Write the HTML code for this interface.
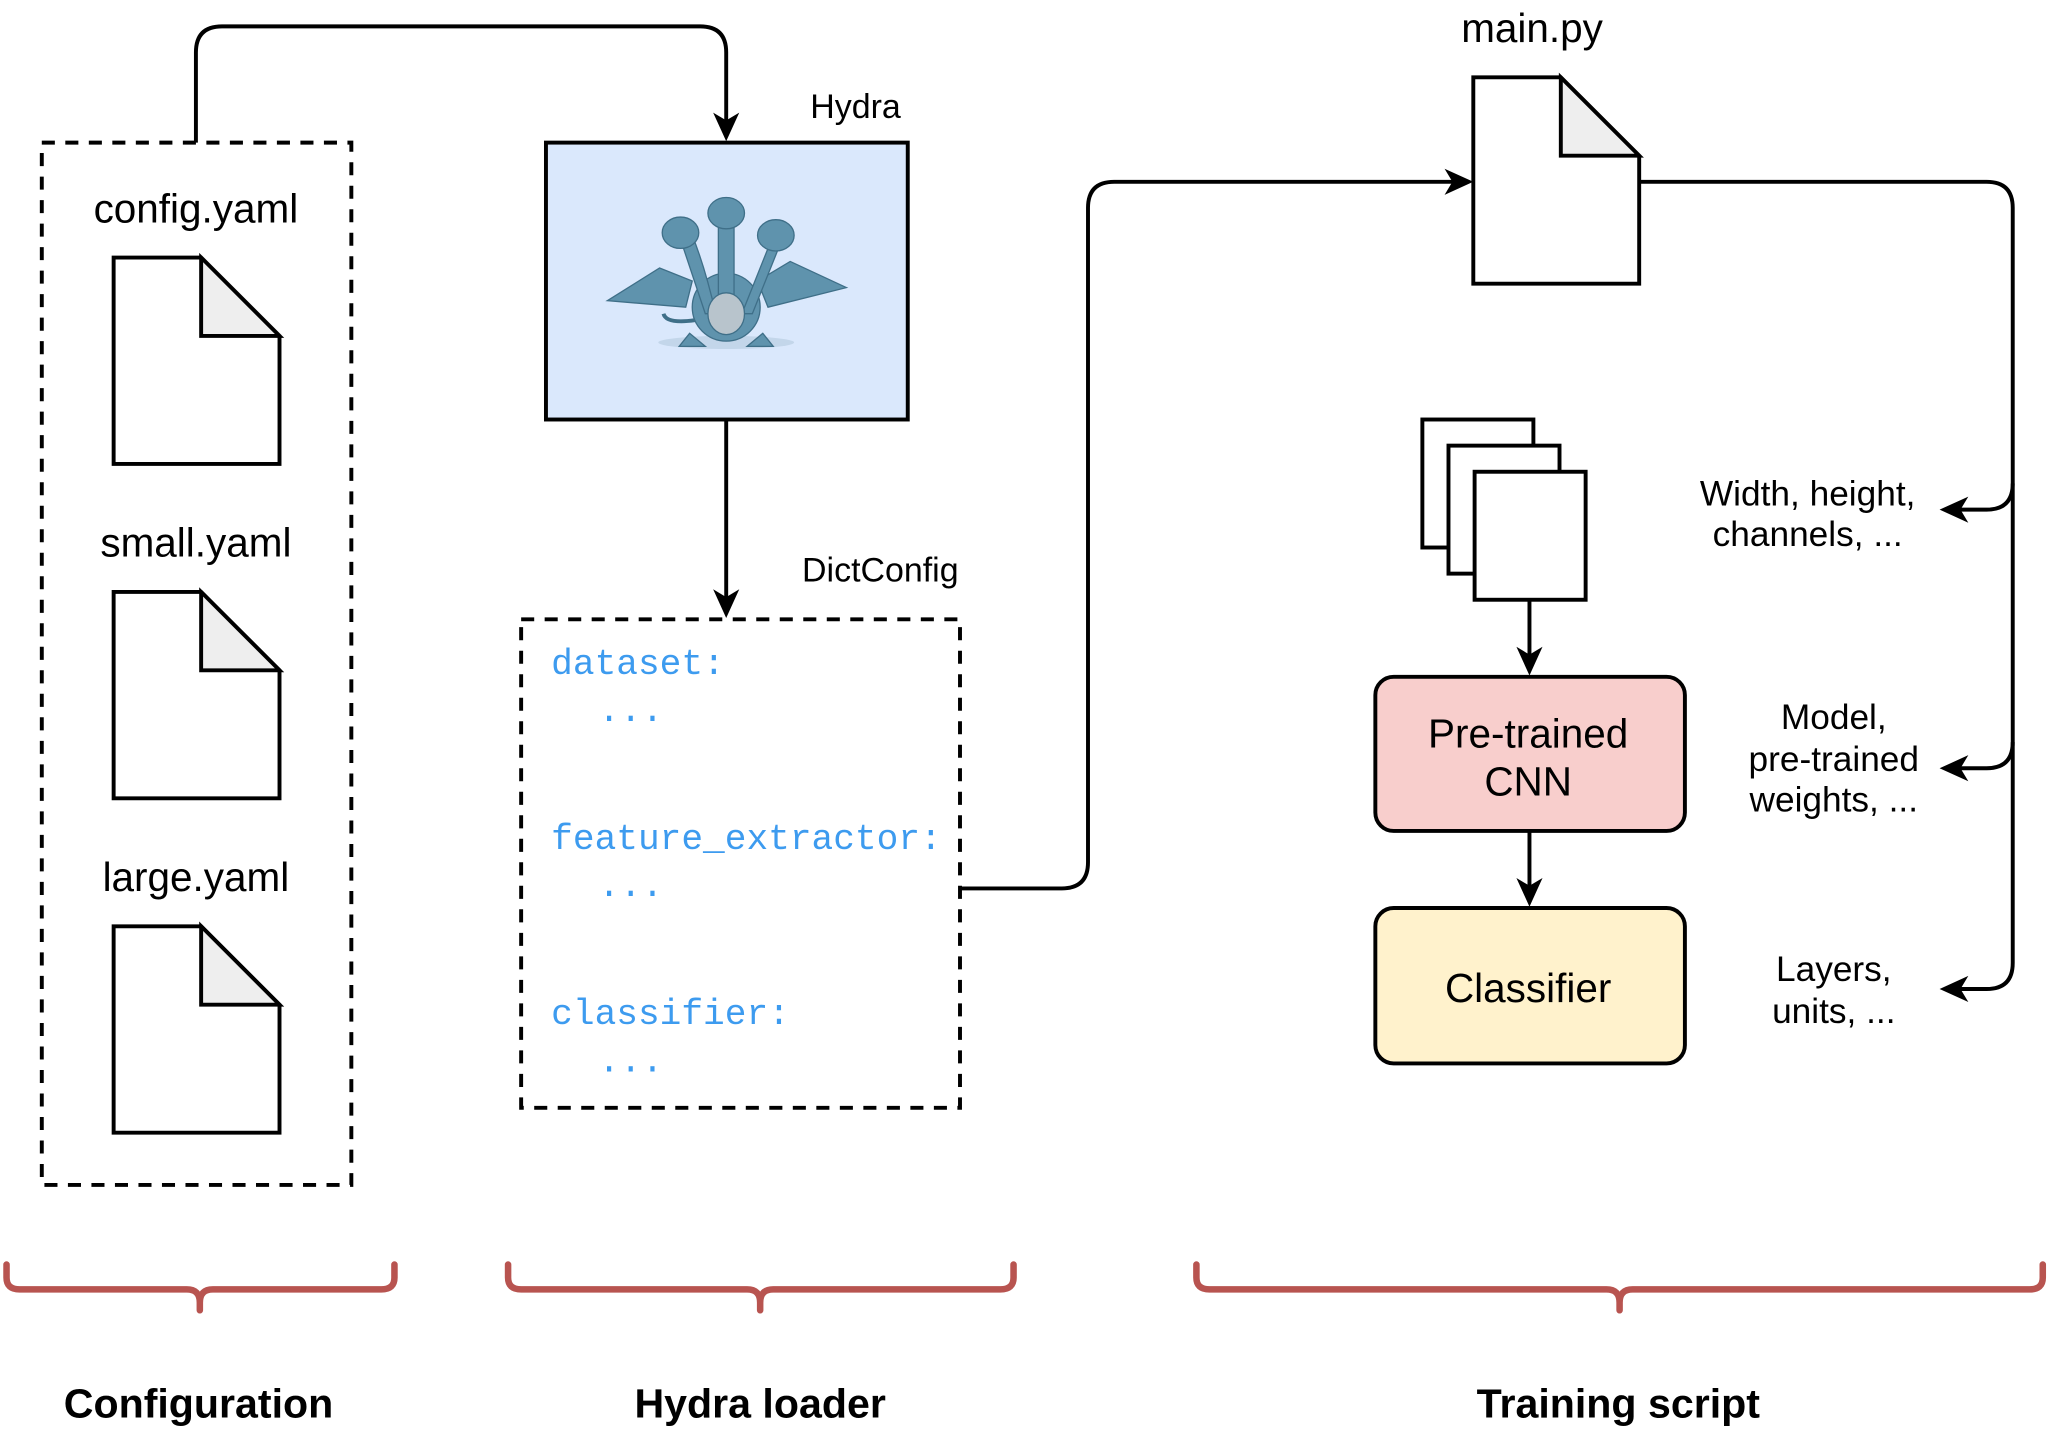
<!DOCTYPE html>
<html><head><meta charset="utf-8"><style>
html,body{margin:0;padding:0;background:#fff;}
svg{display:block;}
text{font-family:"Liberation Sans",sans-serif;fill:#000;}
.code{font-family:"Liberation Mono",monospace;fill:#3d9bef;font-size:27.7px;}
</style></head><body>
<svg width="2048" height="1432" viewBox="0 0 1568 1096" xmlns="http://www.w3.org/2000/svg">
<g fill="none" stroke="#000" stroke-width="3">
<rect x="32" y="109" width="237" height="798" stroke-dasharray="10,8"/>
<path d="M87 197 H154 L214 257 V355 H87 Z" fill="#fff"/>
<path d="M154 197 V257 H214 Z" fill="#eee"/>
<path d="M87 453 H154 L214 513 V611 H87 Z" fill="#fff"/>
<path d="M154 453 V513 H214 Z" fill="#eee"/>
<path d="M87 709 H154 L214 769 V867 H87 Z" fill="#fff"/>
<path d="M154 709 V769 H214 Z" fill="#eee"/>
<path d="M150 109 V40 Q150 20 170 20 H536 Q556 20 556 40 V96"/>
<rect x="418" y="109" width="277" height="212" fill="#dae8fc"/>
<path d="M556 321 V460"/>
<rect x="399" y="474" width="336" height="374" stroke-dasharray="10,8"/>
<path d="M735 680 H813 Q833 680 833 660 V159 Q833 139 853 139 H1115"/>
<path d="M1128 59 H1195 L1255 119 V217 H1128 Z" fill="#fff"/>
<path d="M1195 59 V119 H1255 Z" fill="#eee"/>
<path d="M1255 139 H1521 Q1541 139 1541 159 V737 Q1541 757 1521 757 H1495"/>
<path d="M1541 370 Q1541 390 1521 390 H1495"/>
<path d="M1541 568 Q1541 588 1521 588 H1495"/>
<rect x="1089" y="321" width="85" height="98" fill="#fff"/>
<rect x="1109" y="341" width="85" height="98" fill="#fff"/>
<rect x="1129" y="361" width="85" height="98" fill="#fff"/>
<path d="M1171 459 V505"/>
<rect x="1053" y="518" width="237" height="118" rx="14" fill="#f8cecc"/>
<path d="M1171 636 V683"/>
<rect x="1053" y="695" width="237" height="119" rx="14" fill="#fff2cc"/>
</g>
<g fill="#000">
<path d="M556 108 L546 86 L556 92 L566 86 Z"/>
<path d="M556 473 L546 451 L556 457 L566 451 Z"/>
<path d="M1128 139 L1106 129 L1112 139 L1106 149 Z"/>
<path d="M1485 390 L1507 380 L1501 390 L1507 400 Z"/>
<path d="M1485 588 L1507 578 L1501 588 L1507 598 Z"/>
<path d="M1485 757 L1507 747 L1501 757 L1507 767 Z"/>
<path d="M1171 517 L1161 495 L1171 501 L1181 495 Z"/>
<path d="M1171 694 L1161 672 L1171 678 L1181 672 Z"/>
</g>
<g fill="#5f93ad" stroke="#3f6f88" stroke-width="1">
<ellipse cx="556" cy="262" rx="52" ry="5" fill="#c3d6ea" stroke="none"/>
<path d="M465 230 L505 205 L530 215 L525 235 Z"/>
<path d="M648 220 L605 200 L580 215 L588 235 Z"/>
<ellipse cx="556" cy="235" rx="26" ry="26"/>
<path d="M520 180 Q530 210 540 240 L548 240 Q540 205 530 180 Z"/>
<path d="M550 165 L550 240 L562 240 L562 165 Z"/>
<path d="M590 185 Q580 210 568 240 L576 240 Q586 215 598 185 Z"/>
<ellipse cx="521" cy="178" rx="14" ry="12"/>
<ellipse cx="556" cy="163" rx="14" ry="12"/>
<ellipse cx="594" cy="180" rx="14" ry="12"/>
<ellipse cx="556" cy="240" rx="14" ry="16" fill="#b8c4cc"/>
<path d="M528 255 L520 265 L540 265 Z"/>
<path d="M584 255 L592 265 L572 265 Z"/>
<path d="M532 245 Q510 248 508 240" fill="none" stroke-width="3"/>
</g>
<text x="150" y="170" font-size="31" text-anchor="middle">config.yaml</text>
<text x="150" y="426" font-size="31" text-anchor="middle">small.yaml</text>
<text x="150" y="682" font-size="31" text-anchor="middle">large.yaml</text>
<text x="655" y="90" font-size="26" text-anchor="middle">Hydra</text>
<text x="674" y="445" font-size="26" text-anchor="middle">DictConfig</text>
<text x="1173" y="32" font-size="31" text-anchor="middle">main.py</text>
<text class="code" x="422" y="516">dataset:</text>
<text class="code" x="458" y="552">...</text>
<text class="code" x="422" y="650">feature_extractor:</text>
<text class="code" x="458" y="686">...</text>
<text class="code" x="422" y="784">classifier:</text>
<text class="code" x="458" y="820">...</text>
<text x="1170" y="572" font-size="31" text-anchor="middle">Pre-trained</text>
<text x="1170" y="609" font-size="31" text-anchor="middle">CNN</text>
<text x="1170" y="767" font-size="31" text-anchor="middle">Classifier</text>
<text x="1384" y="387" font-size="27" text-anchor="middle">Width, height,</text>
<text x="1384" y="418" font-size="27" text-anchor="middle">channels, ...</text>
<text x="1404" y="558" font-size="27" text-anchor="middle">Model,</text>
<text x="1404" y="590" font-size="27" text-anchor="middle">pre-trained</text>
<text x="1404" y="621" font-size="27" text-anchor="middle">weights, ...</text>
<text x="1404" y="751" font-size="27" text-anchor="middle">Layers,</text>
<text x="1404" y="783" font-size="27" text-anchor="middle">units, ...</text>
<g fill="none" stroke="#b85450" stroke-width="5" stroke-linecap="round">
<path d="M5 968 V978 Q5 987 15 987 H143 Q153 987 153 997 V1003 M153 997 Q153 987 163 987 H292 Q302 987 302 978 V968"/>
<path d="M389 968 V978 Q389 987 399 987 H572 Q582 987 582 997 V1003 M582 997 Q582 987 592 987 H766 Q776 987 776 978 V968"/>
<path d="M916 968 V978 Q916 987 926 987 H1230 Q1240 987 1240 997 V1003 M1240 997 Q1240 987 1250 987 H1554 Q1564 987 1564 978 V968"/>
</g>
<text x="152" y="1085" font-size="31.5" font-weight="bold" text-anchor="middle">Configuration</text>
<text x="582" y="1085" font-size="31.5" font-weight="bold" text-anchor="middle">Hydra loader</text>
<text x="1239" y="1085" font-size="31.5" font-weight="bold" text-anchor="middle">Training script</text>
</svg>
</body></html>
